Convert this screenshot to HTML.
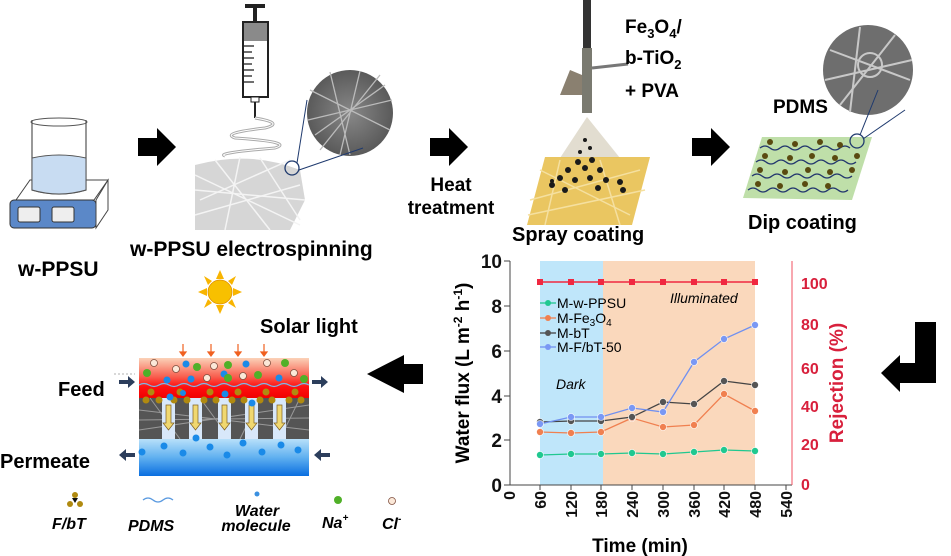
<!DOCTYPE html>
<html><head><meta charset="utf-8"><style>
html,body{margin:0;padding:0;background:#fff}
svg{display:block}
text{font-family:"Liberation Sans",sans-serif}
.b{font-weight:bold}
</style></head><body>
<svg width="951" height="556" viewBox="0 0 951 556" xmlns="http://www.w3.org/2000/svg">
<defs>
<linearGradient id="feed" x1="0" y1="0" x2="0" y2="1"><stop offset="0" stop-color="#fbd2b8"/><stop offset="0.45" stop-color="#f86050"/><stop offset="0.7" stop-color="#ff1010"/><stop offset="1" stop-color="#f00000"/></linearGradient>
<linearGradient id="perm" x1="0" y1="0" x2="0" y2="1"><stop offset="0" stop-color="#b8e0fa"/><stop offset="0.5" stop-color="#60b0f0"/><stop offset="1" stop-color="#0a6ee0"/></linearGradient>
<radialGradient id="sem1"><stop offset="0" stop-color="#888"/><stop offset="1" stop-color="#5a5a5a"/></radialGradient>
</defs>

<!-- Beaker & hotplate -->
<polygon points="16,200 30,180 108,180 94,200" fill="#fff" stroke="#444" stroke-width="1"/>
<rect x="10" y="200" width="86" height="28" rx="4" fill="#5b88c8" stroke="#333"/>
<polygon points="96,200 108,180 108,210 96,228" fill="#fff" stroke="#444"/>
<rect x="18" y="207" width="22" height="15" rx="2" fill="#eee" stroke="#333"/>
<rect x="52" y="207" width="22" height="15" rx="2" fill="#eee" stroke="#333"/>
<path d="M32,120 L32,190 Q59,198 86,190 L86,120" fill="none" stroke="#555" stroke-width="1.2"/>
<path d="M32,158 Q59,152 86,158 L86,190 Q59,198 32,190Z" fill="#c8dcf2" stroke="#555"/>
<ellipse cx="59" cy="122" rx="28" ry="4" fill="none" stroke="#555"/>
<text x="18" y="276" font-size="21" class="b">w-PPSU</text>

<!-- arrows top -->
<polygon points="138,138 157,138 157,128 176,147 157,166 157,156 138,156" fill="#000"/>
<polygon points="430,138 449,138 449,128 468,147 449,166 449,156 430,156" fill="#000"/>
<polygon points="692,138 711,138 711,128 730,147 711,166 711,156 692,156" fill="#000"/>

<!-- syringe -->
<rect x="245" y="4" width="20" height="4" fill="#222"/>
<rect x="253" y="8" width="4" height="14" fill="#222"/>
<rect x="243" y="22" width="25" height="75" fill="#fff" stroke="#222" stroke-width="2"/>
<rect x="244" y="23" width="23" height="18" fill="#8a8a8a"/>
<g stroke="#222" stroke-width="1.3">
<line x1="244" y1="46" x2="254" y2="46"/><line x1="244" y1="52" x2="252" y2="52"/><line x1="244" y1="58" x2="254" y2="58"/><line x1="244" y1="64" x2="252" y2="64"/><line x1="244" y1="70" x2="254" y2="70"/><line x1="244" y1="76" x2="252" y2="76"/><line x1="244" y1="82" x2="254" y2="82"/></g>
<rect x="251" y="97" width="8" height="5" fill="#fff" stroke="#222"/>
<line x1="255" y1="102" x2="255" y2="118" stroke="#222" stroke-width="2"/>
<path d="M255,118 q30,5 10,10 q-45,5 -30,10 q60,4 40,10 q-60,5 -50,8" fill="none" stroke="#aaa" stroke-width="3"/>
<path d="M255,118 q30,5 10,10 q-45,5 -30,10 q60,4 40,10 q-60,5 -50,8" fill="none" stroke="#fff" stroke-width="1"/>
<!-- mesh -->
<path d="M195,165 Q250,150 300,170 L305,200 L290,230 L195,230 Z" fill="#d6d6d6"/>
<g stroke="#f4f4f4" stroke-width="1.5">
<line x1="195" y1="175" x2="300" y2="225"/><line x1="200" y1="200" x2="290" y2="160"/><line x1="195" y1="215" x2="300" y2="185"/><line x1="215" y1="160" x2="270" y2="230"/><line x1="240" y1="157" x2="225" y2="230"/><line x1="195" y1="190" x2="305" y2="200"/><line x1="260" y1="158" x2="300" y2="220"/></g>
<circle cx="350" cy="113" r="43" fill="url(#sem1)"/>
<g stroke="#bbb" stroke-width="1.3"><line x1="310" y1="90" x2="390" y2="130"/><line x1="320" y1="150" x2="380" y2="75"/><line x1="330" y1="72" x2="350" y2="155"/><line x1="308" y1="120" x2="392" y2="100"/><line x1="360" y1="71" x2="340" y2="155"/><line x1="315" y1="135" x2="385" y2="85"/></g>
<circle cx="292" cy="168" r="7" fill="none" stroke="#1f3a6e" stroke-width="1.3"/>
<line x1="297" y1="163" x2="307" y2="100" stroke="#1f3a6e"/><line x1="299" y1="170" x2="363" y2="148" stroke="#1f3a6e"/>
<text x="130" y="256" font-size="21" class="b">w-PPSU electrospinning</text>
<text x="451" y="191" font-size="19" class="b" text-anchor="middle">Heat</text>
<text x="451" y="214" font-size="19" class="b" text-anchor="middle">treatment</text>

<!-- spray gun -->
<rect x="583" y="0" width="8" height="48" fill="#333"/>
<rect x="582" y="48" width="10" height="65" fill="#7a7a70"/>
<line x1="592" y1="68" x2="628" y2="64" stroke="#777" stroke-width="3"/>
<polygon points="570,70 582,75 582,95 560,95" fill="#8a8070"/>
<polygon points="587,117 560,158 620,158" fill="#e2ddd0"/>
<polygon points="527,225 545,157 650,157 632,225" fill="#e8c050" opacity="0.9"/>
<g stroke="#f5e0a0" stroke-width="1.5"><line x1="530" y1="200" x2="640" y2="170"/><line x1="540" y1="170" x2="630" y2="215"/><line x1="560" y1="160" x2="545" y2="225"/><line x1="600" y1="160" x2="620" y2="225"/><line x1="528" y1="215" x2="645" y2="190"/></g>
<g fill="#1a1a1a"><circle cx="585" cy="140" r="2"/><circle cx="590" cy="148" r="2"/><circle cx="580" cy="152" r="2"/><circle cx="578" cy="162" r="3"/><circle cx="592" cy="160" r="3"/><circle cx="568" cy="170" r="3"/><circle cx="585" cy="168" r="3"/><circle cx="600" cy="170" r="3"/><circle cx="560" cy="178" r="3"/><circle cx="575" cy="180" r="3"/><circle cx="590" cy="178" r="3"/><circle cx="606" cy="180" r="3"/><circle cx="552" cy="185" r="3"/><circle cx="620" cy="182" r="3"/><circle cx="565" cy="190" r="3"/><circle cx="598" cy="188" r="3"/><circle cx="552" cy="181" r="2"/><circle cx="623" cy="190" r="3"/></g>
<text x="512" y="241" font-size="20" class="b">Spray coating</text>
<text x="625" y="33" font-size="19" class="b">Fe<tspan font-size="13" dy="5">3</tspan><tspan dy="-5">O</tspan><tspan font-size="13" dy="5">4</tspan><tspan dy="-5">/</tspan></text>
<text x="625" y="64" font-size="19" class="b">b-TiO<tspan font-size="13" dy="5">2</tspan></text>
<text x="625" y="97" font-size="19" class="b">+ PVA</text>

<!-- dip coating -->
<polygon points="743,198 762,137 872,137 852,200" fill="#b8dca0" opacity="0.9"/>
<g fill="none" stroke="#24386e" stroke-width="1.3">
<path d="M760,148 q5,-4 10,0 t10,0 t10,0 t10,0 t10,0 t10,0 t10,0 t10,0 t10,0"/>
<path d="M756,162 q5,-4 10,0 t10,0 t10,0 t10,0 t10,0 t10,0 t10,0 t10,0 t10,0 t10,0"/>
<path d="M752,176 q5,-4 10,0 t10,0 t10,0 t10,0 t10,0 t10,0 t10,0 t10,0 t10,0 t10,0"/>
<path d="M748,190 q5,-4 10,0 t10,0 t10,0 t10,0 t10,0 t10,0 t10,0 t10,0 t10,0 t10,0"/></g>
<g fill="#5a4a10"><circle cx="770" cy="142" r="3"/><circle cx="795" cy="144" r="3"/><circle cx="820" cy="142" r="3"/><circle cx="840" cy="145" r="3"/><circle cx="765" cy="156" r="3"/><circle cx="790" cy="158" r="3"/><circle cx="812" cy="156" r="3"/><circle cx="835" cy="158" r="3"/><circle cx="857" cy="156" r="3"/><circle cx="760" cy="170" r="3"/><circle cx="785" cy="172" r="3"/><circle cx="808" cy="170" r="3"/><circle cx="830" cy="172" r="3"/><circle cx="852" cy="170" r="3"/><circle cx="758" cy="184" r="3"/><circle cx="780" cy="186" r="3"/><circle cx="805" cy="184" r="3"/><circle cx="828" cy="186" r="3"/></g>
<circle cx="868" cy="70" r="45" fill="#6e6e6e"/>
<g stroke="#c8c8c8" stroke-width="2" fill="none"><line x1="830" y1="50" x2="910" y2="80"/><line x1="840" y1="105" x2="895" y2="35"/><circle cx="870" cy="65" r="12"/><line x1="825" y1="80" x2="912" y2="60"/><line x1="860" y1="27" x2="850" y2="112"/></g>
<circle cx="857" cy="141" r="7" fill="none" stroke="#1f3a6e" stroke-width="1.3"/>
<line x1="860" y1="135" x2="878" y2="90" stroke="#1f3a6e"/><line x1="863" y1="139" x2="905" y2="110" stroke="#1f3a6e"/>
<text x="773" y="113" font-size="19" class="b">PDMS</text>
<text x="748" y="229" font-size="20" class="b">Dip coating</text>

<!-- chart -->
<rect x="540" y="261" width="63" height="224" fill="#bfe6fa"/>
<rect x="603" y="261" width="152" height="224" fill="#fad8bc"/>
<line x1="510" y1="261" x2="510" y2="485" stroke="#444"/>
<line x1="510" y1="485" x2="792" y2="485" stroke="#444"/>
<line x1="792" y1="261" x2="792" y2="485" stroke="#f05060"/>
<g stroke="#444">
<line x1="504" y1="261" x2="510" y2="261"/><line x1="504" y1="306" x2="510" y2="306"/><line x1="504" y1="351" x2="510" y2="351"/><line x1="504" y1="396" x2="510" y2="396"/><line x1="504" y1="440" x2="510" y2="440"/><line x1="504" y1="485" x2="510" y2="485"/>
<line x1="540" y1="485" x2="540" y2="490"/><line x1="571" y1="485" x2="571" y2="490"/><line x1="601" y1="485" x2="601" y2="490"/><line x1="632" y1="485" x2="632" y2="490"/><line x1="663" y1="485" x2="663" y2="490"/><line x1="694" y1="485" x2="694" y2="490"/><line x1="724" y1="485" x2="724" y2="490"/><line x1="755" y1="485" x2="755" y2="490"/><line x1="786" y1="485" x2="786" y2="490"/></g>
<g font-size="19" class="b" text-anchor="end" fill="#111">
<text x="502" y="268">10</text><text x="502" y="313">8</text><text x="502" y="358">6</text><text x="502" y="403">4</text><text x="502" y="447">2</text><text x="502" y="492">0</text></g>
<g font-size="16" class="b" text-anchor="end" fill="#111">
<text transform="translate(515,491) rotate(-90)">0</text>
<text transform="translate(546,491) rotate(-90)">60</text>
<text transform="translate(577,491) rotate(-90)">120</text>
<text transform="translate(607,491) rotate(-90)">180</text>
<text transform="translate(638,491) rotate(-90)">240</text>
<text transform="translate(669,491) rotate(-90)">300</text>
<text transform="translate(700,491) rotate(-90)">360</text>
<text transform="translate(730,491) rotate(-90)">420</text>
<text transform="translate(761,491) rotate(-90)">480</text>
<text transform="translate(792,491) rotate(-90)">540</text></g>
<g font-size="16" class="b" fill="#d8203c">
<text x="801" y="289">100</text><text x="801" y="330">80</text><text x="801" y="374">60</text><text x="801" y="412">40</text><text x="801" y="450">20</text><text x="801" y="490">0</text></g>
<text transform="translate(843,383) rotate(-90)" font-size="19" class="b" fill="#d8203c" text-anchor="middle">Rejection (%)</text>
<text transform="translate(469,373) rotate(-90)" font-size="19" class="b" text-anchor="middle">Water flux (L m<tspan font-size="12" dy="-7">-2</tspan><tspan dy="7"> h</tspan><tspan font-size="12" dy="-7">-1</tspan><tspan dy="7">)</tspan></text>
<text x="640" y="552" font-size="19" class="b" text-anchor="middle">Time (min)</text>
<text x="556" y="389" font-size="14" font-style="italic">Dark</text>
<text x="670" y="303" font-size="14" font-style="italic">Illuminated</text>
<!-- rejection -->
<line x1="540" y1="282" x2="755" y2="282" stroke="#f02840" stroke-width="1.5"/>
<g fill="#f02840"><rect x="537" y="279" width="6" height="6"/><rect x="568" y="279" width="6" height="6"/><rect x="598" y="279" width="6" height="6"/><rect x="629" y="279" width="6" height="6"/><rect x="660" y="279" width="6" height="6"/><rect x="691" y="279" width="6" height="6"/><rect x="721" y="279" width="6" height="6"/><rect x="752" y="279" width="6" height="6"/></g>
<!-- series -->
<g stroke-width="1.3">
<polyline fill="none" stroke="#20c890" points="540,455 571,454 601,454 632,453 663,454 694,452 724,450 755,451"/>
<polyline fill="none" stroke="#f08050" points="540,432 571,433 601,432 632,418 663,427 694,425 724,394 755,411"/>
<polyline fill="none" stroke="#444" points="540,422 571,421 601,421 632,417 663,402 694,404 724,381 755,385"/>
<polyline fill="none" stroke="#7090f0" points="540,424 571,417 601,417 632,408 663,412 694,362 724,339 755,325"/>
</g>
<g stroke="#fff" stroke-width="0.6">
<g fill="#20c890"><circle cx="540" cy="455" r="3.5"/><circle cx="571" cy="454" r="3.5"/><circle cx="601" cy="454" r="3.5"/><circle cx="632" cy="453" r="3.5"/><circle cx="663" cy="454" r="3.5"/><circle cx="694" cy="452" r="3.5"/><circle cx="724" cy="450" r="3.5"/><circle cx="755" cy="451" r="3.5"/></g>
<g fill="#f08050"><circle cx="540" cy="432" r="3.5"/><circle cx="571" cy="433" r="3.5"/><circle cx="601" cy="432" r="3.5"/><circle cx="632" cy="418" r="3.5"/><circle cx="663" cy="427" r="3.5"/><circle cx="694" cy="425" r="3.5"/><circle cx="724" cy="394" r="3.5"/><circle cx="755" cy="411" r="3.5"/></g>
<g fill="#555"><circle cx="540" cy="422" r="3.5"/><circle cx="571" cy="421" r="3.5"/><circle cx="601" cy="421" r="3.5"/><circle cx="632" cy="417" r="3.5"/><circle cx="663" cy="402" r="3.5"/><circle cx="694" cy="404" r="3.5"/><circle cx="724" cy="381" r="3.5"/><circle cx="755" cy="385" r="3.5"/></g>
<g fill="#7a98f4"><circle cx="540" cy="424" r="3.5"/><circle cx="571" cy="417" r="3.5"/><circle cx="601" cy="417" r="3.5"/><circle cx="632" cy="408" r="3.5"/><circle cx="663" cy="412" r="3.5"/><circle cx="694" cy="362" r="3.5"/><circle cx="724" cy="339" r="3.5"/><circle cx="755" cy="325" r="3.5"/></g>
</g>
<!-- legend -->
<g font-size="14">
<line x1="540" y1="303" x2="556" y2="303" stroke="#20c890" stroke-width="1.3"/><circle cx="548" cy="303" r="3" fill="#20c890"/><text x="557" y="308">M-w-PPSU</text>
<line x1="540" y1="318" x2="556" y2="318" stroke="#f08050" stroke-width="1.3"/><circle cx="548" cy="318" r="3" fill="#f08050"/><text x="557" y="323">M-Fe<tspan font-size="10" dy="3">3</tspan><tspan dy="-3">O</tspan><tspan font-size="10" dy="3">4</tspan></text>
<line x1="540" y1="333" x2="556" y2="333" stroke="#444" stroke-width="1.3"/><circle cx="548" cy="333" r="3" fill="#555"/><text x="557" y="338">M-bT</text>
<line x1="540" y1="347" x2="556" y2="347" stroke="#7090f0" stroke-width="1.3"/><circle cx="548" cy="347" r="3" fill="#7a98f4"/><text x="557" y="352">M-F/bT-50</text></g>

<!-- hook arrow -->
<polygon points="915,322 936,322 936,383 900,383 900,392 881,373 900,355 900,363 915,363" fill="#000"/>
<!-- left arrow -->
<polygon points="423,364 404,364 404,355 367,374 404,393 404,384 423,384" fill="#000"/>

<!-- sun -->
<g fill="#f8b400">
<polygon points="220,270 216,279 224,279"/><polygon points="220,314 216,305 224,305"/><polygon points="198,292 207,288 207,296"/><polygon points="242,292 233,288 233,296"/>
<polygon points="204,276 212,281 208,285"/><polygon points="236,276 228,281 232,285"/><polygon points="204,308 208,299 212,303"/><polygon points="236,308 228,303 232,299"/></g>
<circle cx="220" cy="292" r="12" fill="#f8c000" stroke="#e09000" stroke-width="0.8"/>
<text x="260" y="333" font-size="20" class="b">Solar light</text>
<g stroke="#f06020" stroke-width="1.2" fill="#f06020">
<line x1="183" y1="344" x2="183" y2="353"/><polygon points="180,352 186,352 183,356"/>
<line x1="211" y1="344" x2="211" y2="353"/><polygon points="208,352 214,352 211,356"/>
<line x1="238" y1="344" x2="238" y2="353"/><polygon points="235,352 241,352 238,356"/>
<line x1="264" y1="344" x2="264" y2="353"/><polygon points="261,352 267,352 264,356"/></g>

<!-- membrane -->
<rect x="139" y="358" width="170" height="41" fill="url(#feed)"/>
<rect x="139" y="398" width="170" height="41" fill="#555"/>
<g stroke="#999" stroke-width="1"><line x1="139" y1="410" x2="309" y2="430"/><line x1="139" y1="430" x2="309" y2="405"/><line x1="150" y1="398" x2="180" y2="439"/><line x1="200" y1="398" x2="230" y2="439"/><line x1="260" y1="398" x2="240" y2="439"/><line x1="300" y1="398" x2="280" y2="439"/><line x1="139" y1="420" x2="309" y2="418"/></g>
<g fill="#d8e8fa"><rect x="162" y="398" width="13" height="41"/><rect x="189" y="398" width="13" height="41"/><rect x="218" y="398" width="13" height="41"/><rect x="245" y="398" width="13" height="41"/><rect x="273" y="398" width="13" height="41"/></g>
<g fill="#f0d870" stroke="#806020" stroke-width="0.7">
<polygon points="166,405 171,405 171,423 174,423 168.5,430 163,423 166,423"/>
<polygon points="193,405 198,405 198,423 201,423 195.5,430 190,423 193,423"/>
<polygon points="222,405 227,405 227,423 230,423 224.5,430 219,423 222,423"/>
<polygon points="249,405 254,405 254,423 257,423 251.5,430 246,423 249,423"/>
<polygon points="277,405 282,405 282,423 285,423 279.5,430 274,423 277,423"/></g>
<rect x="139" y="439" width="170" height="37" fill="url(#perm)"/>
<path d="M139,385 q5,-3 10,0 t10,0 t10,0 t10,0 t10,0 t10,0 t10,0 t10,0 t10,0 t10,0 t10,0 t10,0 t10,0 t10,0 t10,0 t10,0 t10,0" fill="none" stroke="#7ab8e8" stroke-width="1.3"/>
<g fill="#b08a10"><circle cx="151" cy="392" r="3.5"/><circle cx="159" cy="400" r="3.5"/><circle cx="146" cy="400" r="3.5"/><circle cx="180" cy="392" r="3.5"/><circle cx="174" cy="400" r="3.5"/><circle cx="187" cy="400" r="3.5"/><circle cx="210" cy="392" r="3.5"/><circle cx="204" cy="400" r="3.5"/><circle cx="216" cy="400" r="3.5"/><circle cx="238" cy="392" r="3.5"/><circle cx="232" cy="400" r="3.5"/><circle cx="244" cy="400" r="3.5"/><circle cx="266" cy="392" r="3.5"/><circle cx="260" cy="400" r="3.5"/><circle cx="272" cy="400" r="3.5"/><circle cx="295" cy="392" r="3.5"/><circle cx="289" cy="400" r="3.5"/><circle cx="301" cy="400" r="3.5"/></g>
<g fill="#1a8ae8"><circle cx="186" cy="364" r="3.5"/><circle cx="246" cy="364" r="3.5"/><circle cx="167" cy="380" r="3.5"/><circle cx="191" cy="379" r="3.5"/><circle cx="279" cy="378" r="3.5"/><circle cx="224" cy="374" r="3.5"/><circle cx="170" cy="397" r="3.5"/><circle cx="225" cy="394" r="3.5"/><circle cx="252" cy="403" r="3.5"/><circle cx="196" cy="438" r="3.5"/><circle cx="142" cy="452" r="3.5"/><circle cx="164" cy="446" r="3.5"/><circle cx="183" cy="453" r="3.5"/><circle cx="210" cy="447" r="3.5"/><circle cx="227" cy="455" r="3.5"/><circle cx="243" cy="443" r="3.5"/><circle cx="262" cy="452" r="3.5"/><circle cx="281" cy="445" r="3.5"/><circle cx="298" cy="450" r="3.5"/><circle cx="183" cy="393" r="3"/></g>
<g fill="#50b028"><circle cx="197" cy="367" r="4"/><circle cx="147" cy="373" r="4"/><circle cx="228" cy="365" r="4"/><circle cx="258" cy="375" r="4"/><circle cx="285" cy="363" r="4"/><circle cx="304" cy="379" r="4"/><circle cx="228" cy="378" r="4"/></g>
<g fill="#fbe8d8" stroke="#805040" stroke-width="0.8"><circle cx="154" cy="363" r="3.5"/><circle cx="176" cy="369" r="3.5"/><circle cx="214" cy="366" r="3.5"/><circle cx="207" cy="378" r="3.5"/><circle cx="243" cy="376" r="3.5"/><circle cx="267" cy="363" r="3.5"/><circle cx="294" cy="373" r="3.5"/></g>
<!-- small flow arrows -->
<g fill="#2c3e5c">
<polygon points="119,380 128,380 128,376 135,382 128,388 128,384 119,384"/>
<polygon points="312,380 321,380 321,376 328,382 321,388 321,384 312,384"/>
<polygon points="135,453 126,453 126,449 119,455 126,461 126,457 135,457"/>
<polygon points="330,453 321,453 321,449 314,455 321,461 321,457 330,457"/></g>
<line x1="114" y1="374" x2="135" y2="374" stroke="#999" stroke-dasharray="2,2" stroke-width="0.7"/>
<text x="58" y="396" font-size="20" class="b">Feed</text>
<text x="0" y="468" font-size="20" class="b">Permeate</text>

<!-- legend bottom -->
<g fill="#b08a10"><circle cx="75" cy="495" r="3"/><circle cx="70" cy="504" r="3"/><circle cx="80" cy="504" r="3"/></g><polygon points="72,498 78,498 75,503" fill="#111"/>
<path d="M143,500 q5,-4 10,0 t10,0 t10,0" fill="none" stroke="#5a9ae0" stroke-width="1.3"/>
<circle cx="257" cy="494" r="2.5" fill="#3a90e0"/>
<circle cx="338" cy="500" r="4" fill="#50b028"/>
<circle cx="392" cy="501" r="3.5" fill="#fbe8d8" stroke="#805040" stroke-width="0.8"/>
<g font-size="16" class="b" font-style="italic">
<text x="52" y="529">F/bT</text>
<text x="128" y="531">PDMS</text>
<text x="257" y="516" text-anchor="middle">Water</text>
<text x="256" y="531" text-anchor="middle">molecule</text>
<text x="322" y="528">Na<tspan font-size="10" dy="-7">+</tspan></text>
<text x="382" y="529">Cl<tspan font-size="10" dy="-7">-</tspan></text></g>
</svg>
</body></html>
